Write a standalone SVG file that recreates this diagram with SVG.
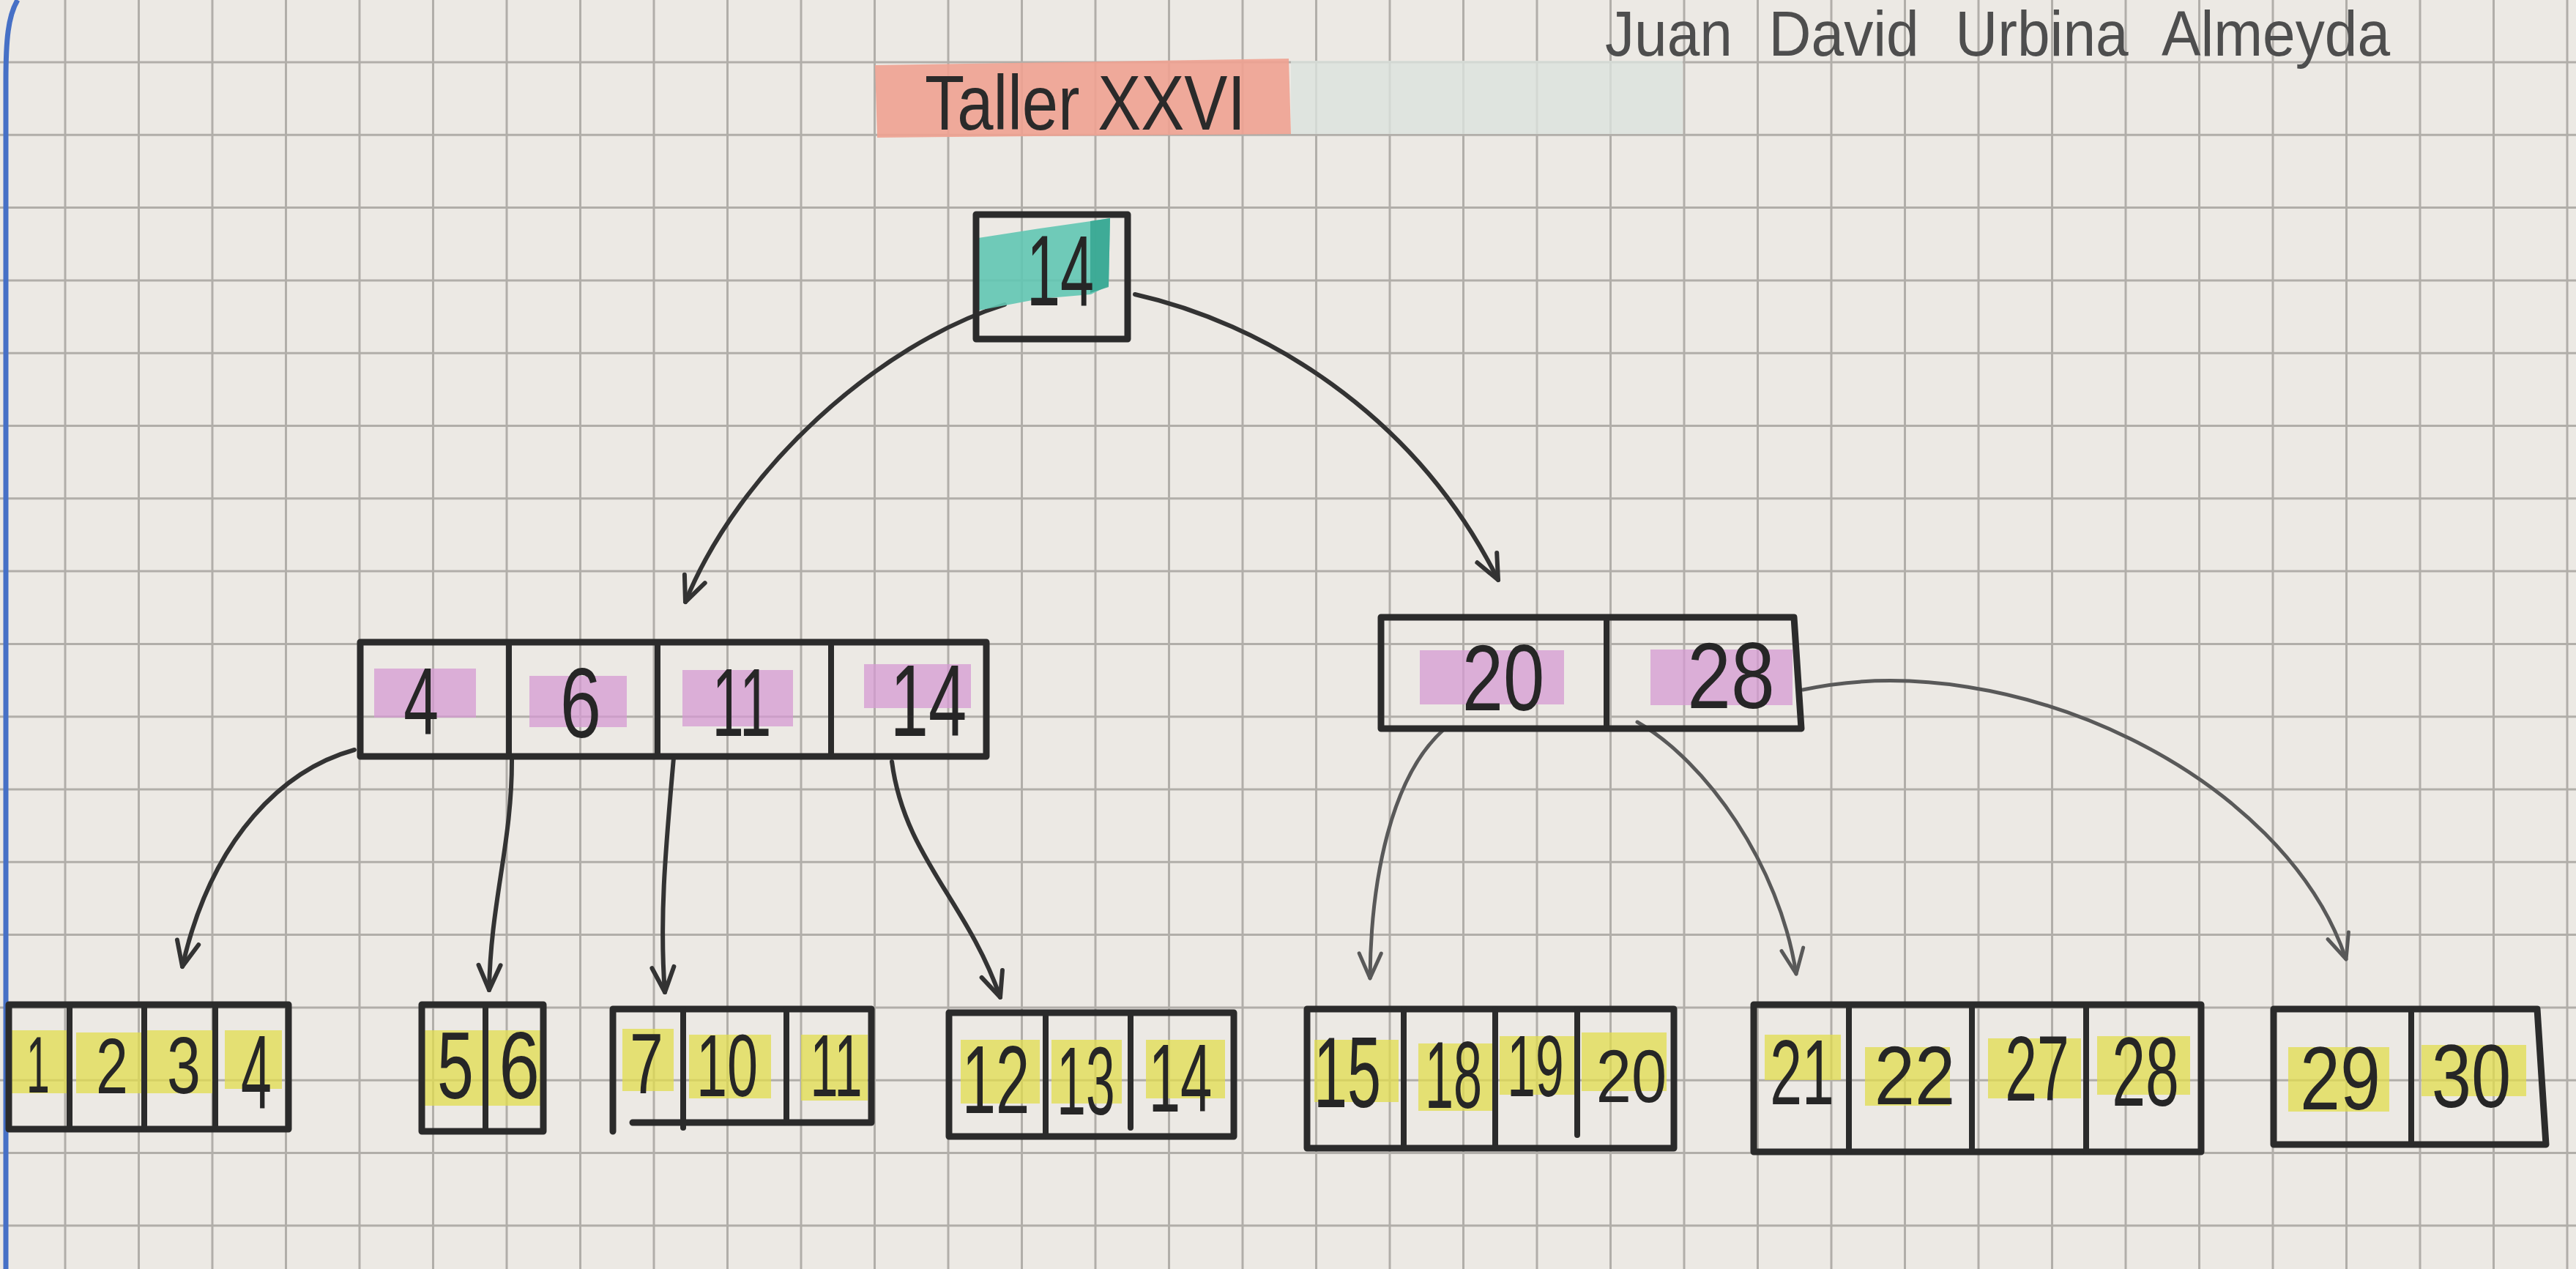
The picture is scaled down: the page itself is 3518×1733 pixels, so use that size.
<svg xmlns="http://www.w3.org/2000/svg" width="3518" height="1733" viewBox="0 0 3518 1733">
<defs>
<style>
.grid{fill:none;stroke:#b1aea9;stroke-width:3}
.box{fill:none;stroke:#2b2b2b;stroke-width:9;stroke-linejoin:round;stroke-linecap:round}
.dv{fill:none;stroke:#2b2b2b;stroke-width:8;stroke-linecap:round}
.num{font-family:"Liberation Sans",Arial,sans-serif;fill:#262626;text-anchor:middle}
.hy{fill:#e2dc4e;opacity:.75}
.hp{fill:#d59ad3;opacity:.75}
.c1{fill:none;stroke:#333;stroke-width:6;stroke-linecap:round}
.c2{fill:none;stroke:#595959;stroke-width:5;stroke-linecap:round}
</style>
<marker id="ah1" markerUnits="userSpaceOnUse" markerWidth="60" markerHeight="60" viewBox="-40 -30 60 60" refX="0" refY="0" orient="auto" overflow="visible">
<path d="M-34,-15 L0,0 L-34,15" fill="none" stroke="#333" stroke-width="6" stroke-linecap="round" stroke-linejoin="round"/>
</marker>
<marker id="ah2" markerUnits="userSpaceOnUse" markerWidth="60" markerHeight="60" viewBox="-40 -30 60 60" refX="0" refY="0" orient="auto" overflow="visible">
<path d="M-34,-15 L0,0 L-34,15" fill="none" stroke="#595959" stroke-width="5" stroke-linecap="round" stroke-linejoin="round"/>
</marker>
</defs>

<rect width="3518" height="1733" fill="#ece9e4"/>

<g id="paper-grid">
<path class="grid" d="M89,0V1733M189.5,0V1733M290,0V1733M390.5,0V1733M491,0V1733M591.5,0V1733M692,0V1733M792.5,0V1733M893,0V1733M993.5,0V1733M1094,0V1733M1194.5,0V1733M1295,0V1733M1395.5,0V1733M1496,0V1733M1596.5,0V1733M1697,0V1733M1797.5,0V1733M1898,0V1733M1998.5,0V1733M2099,0V1733M2199.5,0V1733M2300,0V1733M2400.5,0V1733M2501,0V1733M2601.5,0V1733M2702,0V1733M2802.5,0V1733M2903,0V1733M3003.5,0V1733M3104,0V1733M3204.5,0V1733M3305,0V1733M3405.5,0V1733M3506,0V1733"/>
<path class="grid" d="M0,85H3518M0,184.3H3518M0,283.6H3518M0,382.9H3518M0,482.2H3518M0,581.5H3518M0,680.8H3518M0,780.1H3518M0,879.4H3518M0,978.7H3518M0,1078H3518M0,1177.3H3518M0,1276.6H3518M0,1375.9H3518M0,1475.2H3518M0,1574.5H3518M0,1673.8H3518"/>
<path d="M24,0 C11,22 8,55 8,110 L8,1733" fill="none" stroke="#4670c6" stroke-width="7"/>
</g>

<g id="header">
<path d="M1195,89 L1760,80 L1763,183 L1198,188 Z" fill="#f0a291" opacity=".9"/>
<rect x="1763" y="83" width="535" height="100" fill="#dce2dd" opacity=".8"/>
<text x="1263" y="177" font-family="Liberation Sans, Arial, sans-serif" font-size="105" fill="#2a2a2a" textLength="438" lengthAdjust="spacingAndGlyphs">Taller XXVI</text>
<text x="2192" y="76" font-family="Liberation Sans, Arial, sans-serif" font-size="88" fill="#4e4e4e" textLength="1072" lengthAdjust="spacingAndGlyphs" word-spacing="30">Juan David Urbina Almeyda</text>
</g>

<g id="connectors">
<path class="c1" d="M1372,416 C1200,470 1010,640 936,822" marker-end="url(#ah1)"/>
<path class="c1" d="M1550,402 C1720,440 1930,560 2046,792" marker-end="url(#ah1)"/>
<path class="c1" d="M484,1024 C390,1050 290,1140 249,1320" marker-end="url(#ah1)"/>
<path class="c1" d="M699,1033 C700,1150 670,1230 668,1352" marker-end="url(#ah1)"/>
<path class="c1" d="M920,1035 C910,1150 900,1250 908,1355" marker-end="url(#ah1)"/>
<path class="c1" d="M1218,1040 C1235,1170 1320,1230 1366,1362" marker-end="url(#ah1)"/>
<path class="c2" d="M1972,996 C1900,1060 1872,1200 1871,1336" marker-end="url(#ah2)"/>
<path class="c2" d="M2236,986 C2330,1040 2430,1180 2453,1330" marker-end="url(#ah2)"/>
<path class="c2" d="M2462,942 C2750,880 3120,1060 3204,1310" marker-end="url(#ah2)"/>
</g>

<g id="node-root">
<path d="M1336,325 L1420,312 L1490,302 L1516,298 L1514,390 L1490,402 L1420,408 L1336,424 Z" fill="#62c6b3" opacity=".9"/>
<path d="M1489,302 L1516,298 L1514,392 L1489,400 Z" fill="#36a690" opacity=".85"/>
<rect class="box" x="1333" y="293" width="207" height="170"/>
<text class="num" font-size="138" transform="translate(1448,417) scale(0.6,1)">14</text>
</g>

<g id="node-left">
<rect class="hp" x="511" y="913" width="139" height="67"/>
<rect class="hp" x="723" y="923" width="133" height="70"/>
<rect class="hp" x="932" y="915" width="151" height="77"/>
<rect class="hp" x="1180" y="907" width="146" height="60"/>
<rect class="box" x="492" y="877" width="855" height="156"/>
<path class="dv" d="M695,877V1033M898,877V1033M1135,877V1033"/>
<text class="num" font-size="130" transform="translate(575,1002) scale(0.66,1)">4</text>
<text class="num" font-size="135" transform="translate(793,1007) scale(0.75,1)">6</text>
<text class="num" font-size="132" transform="translate(1013,1005) scale(0.59,1)">11</text>
<text class="num" font-size="140" transform="translate(1268,1005) scale(0.67,1)">14</text>
</g>

<g id="node-right">
<rect class="hp" x="1939" y="888" width="197" height="74"/>
<rect class="hp" x="2254" y="887" width="194" height="76"/>
<path class="box" d="M1886,843 L2450,843 L2460,995 L1886,995 Z"/>
<path class="dv" d="M2194,843V995"/>
<text class="num" font-size="128" transform="translate(2053,970) scale(0.79,1)">20</text>
<text class="num" font-size="128" transform="translate(2364,967) scale(0.84,1)">28</text>
</g>

<g id="leaf-1">
<rect class="hy" x="12" y="1407" width="80" height="86"/>
<rect class="hy" x="104" y="1410" width="91" height="83"/>
<rect class="hy" x="199" y="1407" width="95" height="86"/>
<rect class="hy" x="307" y="1407" width="78" height="80"/>
<rect class="box" x="12" y="1372" width="382" height="170"/>
<path class="dv" d="M95,1372V1542M197,1372V1542M294,1372V1542"/>
<text class="num" font-size="110" transform="translate(52,1492) scale(0.52,1)">1</text>
<text class="num" font-size="108" transform="translate(153,1493) scale(0.73,1)">2</text>
<text class="num" font-size="110" transform="translate(251,1493) scale(0.75,1)">3</text>
<text class="num" font-size="142" transform="translate(350,1513) scale(0.53,1)">4</text>
</g>

<g id="leaf-2">
<rect class="hy" x="580" y="1407" width="158" height="103"/>
<rect class="box" x="576" y="1372" width="166" height="173"/>
<path class="dv" d="M663,1372V1545"/>
<text class="num" font-size="130" transform="translate(622,1500) scale(0.69,1)">5</text>
<text class="num" font-size="130" transform="translate(709,1500) scale(0.77,1)">6</text>
</g>

<g id="leaf-3">
<rect class="hy" x="850" y="1405" width="70" height="85"/>
<rect class="hy" x="941" y="1413" width="112" height="87"/>
<rect class="hy" x="1094" y="1413" width="91" height="90"/>
<path class="box" d="M837,1545 V1378 H1190 V1533 H864"/>
<path class="dv" d="M933,1378V1540M1074,1378V1533"/>
<text class="num" font-size="116" transform="translate(883,1493) scale(0.71,1)">7</text>
<text class="num" font-size="120" transform="translate(993,1497) scale(0.63,1)">10</text>
<text class="num" font-size="120" transform="translate(1142,1497) scale(0.57,1)">11</text>
</g>

<g id="leaf-4">
<rect class="hy" x="1312" y="1420" width="108" height="87"/>
<rect class="hy" x="1436" y="1420" width="96" height="87"/>
<rect class="hy" x="1565" y="1420" width="108" height="80"/>
<rect class="box" x="1296" y="1383" width="389" height="169"/>
<path class="dv" d="M1428,1383V1552M1544,1383V1540"/>
<text class="num" font-size="132" transform="translate(1360,1520) scale(0.63,1)">12</text>
<text class="num" font-size="132" transform="translate(1483,1522) scale(0.54,1)">13</text>
<text class="num" font-size="132" transform="translate(1612,1518) scale(0.59,1)">14</text>
</g>

<g id="leaf-5">
<rect class="hy" x="1795" y="1420" width="115" height="85"/>
<rect class="hy" x="1937" y="1425" width="101" height="92"/>
<rect class="hy" x="2048" y="1415" width="102" height="80"/>
<rect class="hy" x="2160" y="1410" width="116" height="80"/>
<rect class="box" x="1785" y="1378" width="501" height="190"/>
<path class="dv" d="M1917,1378V1568M2042,1378V1568M2154,1378V1550"/>
<text class="num" font-size="138" transform="translate(1840,1512) scale(0.6,1)">15</text>
<text class="num" font-size="130" transform="translate(1985,1513) scale(0.54,1)">18</text>
<text class="num" font-size="118" transform="translate(2097,1497) scale(0.59,1)">19</text>
<text class="num" font-size="102" transform="translate(2228,1505) scale(0.85,1)">20</text>
</g>

<g id="leaf-6">
<rect class="hy" x="2410" y="1413" width="104" height="62"/>
<rect class="hy" x="2547" y="1430" width="116" height="80"/>
<rect class="hy" x="2715" y="1418" width="127" height="82"/>
<rect class="hy" x="2864" y="1415" width="127" height="80"/>
<rect class="box" x="2395" y="1372" width="611" height="201"/>
<path class="dv" d="M2525,1372V1573M2693,1372V1573M2849,1372V1573"/>
<text class="num" font-size="127" transform="translate(2461,1508) scale(0.62,1)">21</text>
<text class="num" font-size="113" transform="translate(2615,1508) scale(0.88,1)">22</text>
<text class="num" font-size="127" transform="translate(2782,1503) scale(0.62,1)">27</text>
<text class="num" font-size="133" transform="translate(2930,1510) scale(0.62,1)">28</text>
</g>

<g id="leaf-7">
<rect class="hy" x="3125" y="1430" width="138" height="88"/>
<rect class="hy" x="3307" y="1427" width="143" height="70"/>
<path class="box" d="M3105,1378 L3465,1378 L3477,1563 L3105,1563 Z"/>
<path class="dv" d="M3293,1378V1563"/>
<text class="num" font-size="122" transform="translate(3196,1515) scale(0.81,1)">29</text>
<text class="num" font-size="122" transform="translate(3375,1512) scale(0.8,1)">30</text>
</g>
</svg>
